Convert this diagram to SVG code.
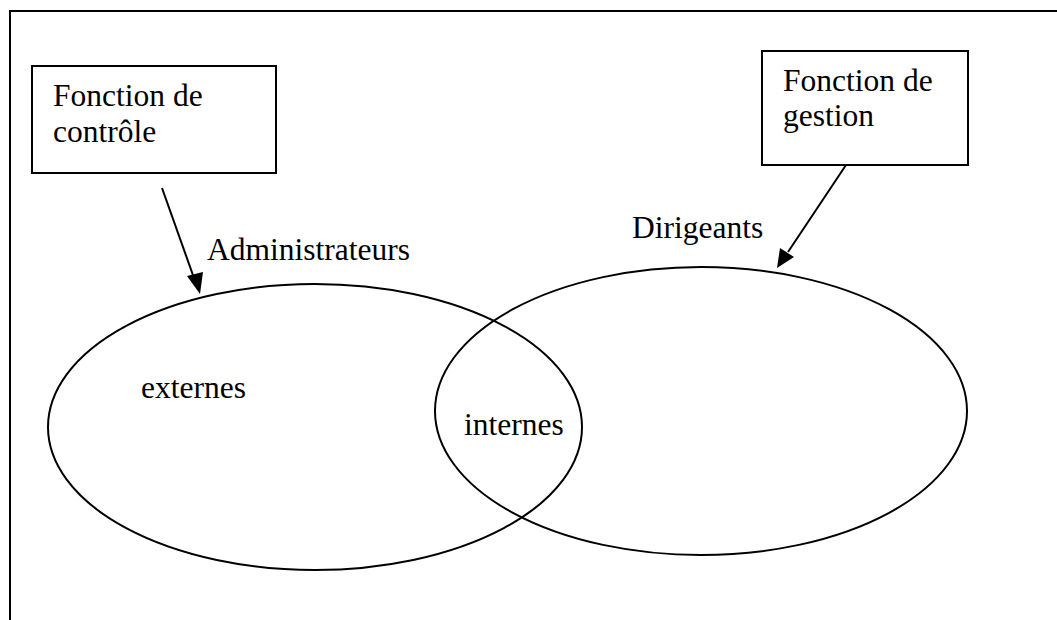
<svg xmlns="http://www.w3.org/2000/svg" width="1057" height="620" viewBox="0 0 1057 620">
<defs>
<style>
.t{font-family:"Liberation Serif","Times New Roman",serif;font-size:31.5px;fill:#000}
.s{fill:none;stroke:#000;stroke-width:2}
.b{fill:#fff;stroke:#000;stroke-width:2}
.c{stroke:#000;stroke-width:2;fill:none}
</style>
</defs>
<rect width="1057" height="620" fill="#fff"/>
<g id="frame"><path d="M10,620 V11 H1057" class="s" stroke-width="1.6"/></g>
<g id="administrateurs">
<ellipse cx="315" cy="427" rx="267" ry="143" class="s"/>
<text x="207" y="260" class="t">Administrateurs</text>
<text x="141" y="398" class="t">externes</text>
</g>
<g id="dirigeants">
<ellipse cx="701" cy="411" rx="266" ry="144" class="s"/>
<text x="632" y="238" class="t">Dirigeants</text>
</g>
<g id="internes"><text x="464" y="435" class="t">internes</text></g>
<g id="controle">
<rect x="32" y="66" width="244" height="107" class="b"/>
<text x="53" y="106" class="t">Fonction de</text>
<text x="53" y="142" class="t">contrôle</text>
</g>
<g id="gestion">
<rect x="762" y="51" width="206" height="114" class="b"/>
<text x="783" y="91" class="t">Fonction de</text>
<text x="783" y="126" class="t">gestion</text>
</g>
<g id="connectors">
<line x1="162" y1="188" x2="194" y2="278" class="c"/>
<path d="M187,276 L200,294 L203,272 Z" fill="#000"/>
<line x1="846" y1="165" x2="788" y2="252" class="c"/>
<path d="M780,248 L777,268 L794,257 Z" fill="#000"/>
</g>
</svg>
